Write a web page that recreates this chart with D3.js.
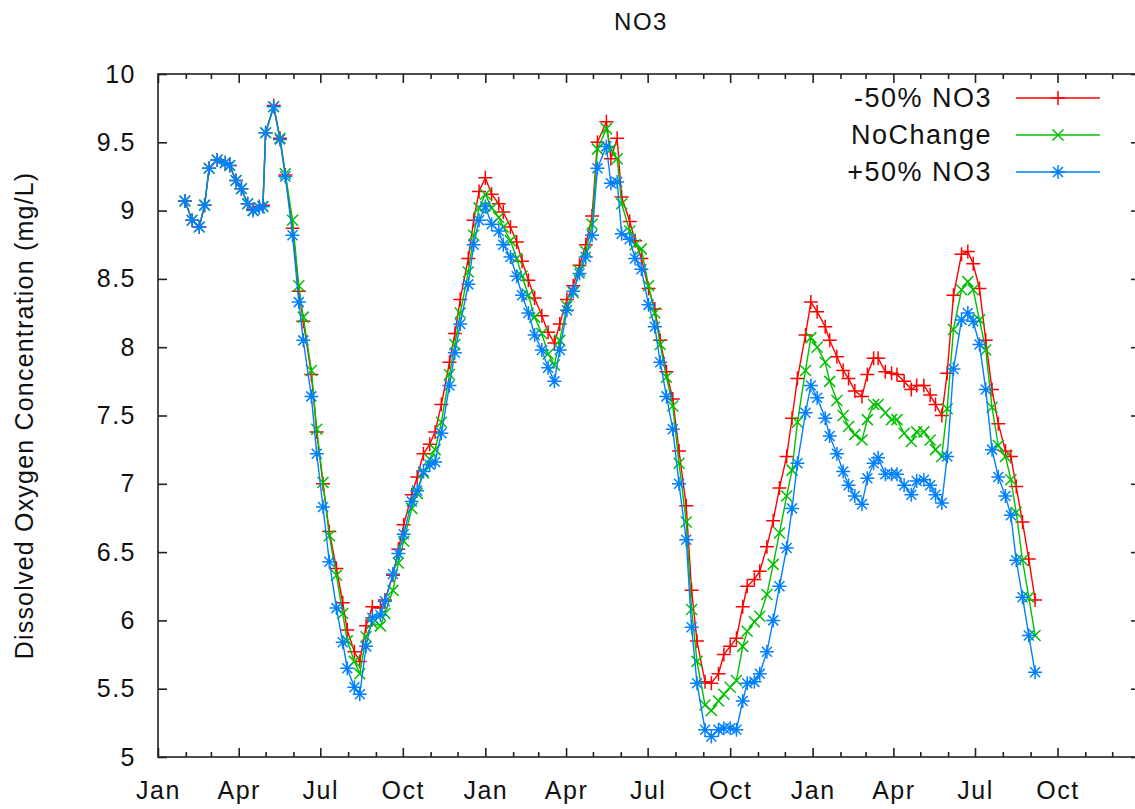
<!DOCTYPE html>
<html>
<head>
<meta charset="utf-8">
<script src="https://cdn.jsdelivr.net/npm/d3@7"></script>
<style>
    body { margin: 0; background: #fff; }
    text { font-family: "Liberation Sans", Arial, sans-serif; fill: #111; }
    .frame { fill: none; stroke: #222; stroke-width: 1.6; }
    .tick line { stroke: #222; stroke-width: 1.6; }
    .series { fill: none; stroke-width: 1.4; }
    .marker { fill: none; stroke-width: 1.5; }
</style>
</head>
<body>
<svg id="chart" width="1135" height="809"></svg>
<script>
// sample days counted from 1 Jan of the first year
const days = [30, 38, 46, 52, 57, 66, 75, 80, 87, 93, 100, 106, 113, 117, 120, 129, 136, 142, 150, 157,
    162, 171, 177, 184, 191, 199, 206, 211, 219, 225, 232, 239, 248, 253, 262, 268, 274, 283, 289, 296,
    303, 309, 316, 325, 331, 337, 346, 352, 358, 365, 372, 380, 385, 393, 400, 406, 413, 420, 428, 435,
    442, 448, 456, 463, 470, 477, 484, 490, 500, 505, 512, 517, 526, 532, 539, 547, 554, 560, 567, 574,
    581, 589, 595, 601, 610, 617, 625, 631, 638, 645, 652, 657, 665, 671, 679, 686, 693, 701, 707, 713,
    722, 728, 735, 744, 749, 757, 764, 770, 777, 785, 791, 798, 803, 811, 818, 824, 832, 840, 846, 854,
    861, 867, 874, 880, 887, 896, 903, 909, 916, 923, 930, 937, 945, 951, 957, 964, 971, 978];

const minus50 = [9.07, 8.93, 8.88, 9.04, 9.31, 9.37, 9.35, 9.33, 9.22, 9.16, 9.05, 9.01, 9.03, 9.04, 9.57, 9.77, 9.53, 9.26, 8.87, 8.41,
    8.19, 7.80, 7.38, 7.00, 6.65, 6.38, 6.13, 5.93, 5.77, 5.70, 5.96, 6.10, 6.09, 6.15, 6.33, 6.52, 6.70, 6.92, 7.05, 7.22,
    7.29, 7.38, 7.58, 7.89, 8.10, 8.35, 8.65, 8.93, 9.14, 9.24, 9.12, 9.05, 8.99, 8.88, 8.77, 8.63, 8.49, 8.36, 8.23, 8.11,
    8.03, 8.17, 8.35, 8.45, 8.60, 8.75, 8.96, 9.50, 9.65, 9.38, 9.53, 9.10, 8.92, 8.78, 8.65, 8.43, 8.28, 8.05, 7.82, 7.62,
    7.24, 6.84, 6.22, 5.85, 5.55, 5.54, 5.61, 5.75, 5.81, 5.87, 6.10, 6.25, 6.30, 6.36, 6.54, 6.73, 6.97, 7.20, 7.48, 7.77,
    8.09, 8.33, 8.26, 8.15, 8.05, 7.93, 7.83, 7.77, 7.68, 7.64, 7.80, 7.92, 7.92, 7.82, 7.81, 7.80, 7.75, 7.69, 7.72, 7.72,
    7.65, 7.58, 7.50, 7.81, 8.38, 8.68, 8.70, 8.61, 8.43, 8.05, 7.69, 7.44, 7.24, 7.20, 6.98, 6.72, 6.45, 6.15];

const noChange = [9.07, 8.93, 8.88, 9.04, 9.31, 9.37, 9.35, 9.33, 9.22, 9.16, 9.05, 9.00, 9.02, 9.03, 9.57, 9.76, 9.53, 9.27, 8.93, 8.45,
    8.22, 7.83, 7.40, 7.01, 6.62, 6.33, 6.05, 5.85, 5.70, 5.61, 5.88, 5.98, 5.96, 6.05, 6.22, 6.42, 6.58, 6.82, 6.93, 7.08,
    7.18, 7.25, 7.45, 7.80, 8.02, 8.25, 8.55, 8.82, 9.02, 9.12, 9.02, 8.95, 8.88, 8.78, 8.65, 8.52, 8.38, 8.22, 8.10, 7.95,
    7.87, 8.05, 8.30, 8.40, 8.56, 8.70, 8.90, 9.45, 9.60, 9.45, 9.38, 9.05, 8.85, 8.75, 8.72, 8.45, 8.25, 8.02, 7.78, 7.57,
    7.15, 6.72, 6.08, 5.70, 5.38, 5.34, 5.41, 5.46, 5.51, 5.56, 5.81, 5.92, 5.99, 6.03, 6.19, 6.41, 6.64, 6.91, 7.10, 7.45,
    7.83, 8.07, 8.00, 7.89, 7.75, 7.61, 7.50, 7.42, 7.36, 7.32, 7.47, 7.58, 7.58, 7.52, 7.47, 7.47, 7.37, 7.31, 7.38, 7.38,
    7.32, 7.25, 7.20, 7.55, 8.13, 8.42, 8.48, 8.42, 8.20, 7.98, 7.56, 7.28, 7.20, 7.03, 6.79, 6.44, 6.17, 5.89];

const plus50 = [9.07, 8.93, 8.88, 9.04, 9.31, 9.37, 9.35, 9.33, 9.22, 9.16, 9.05, 9.00, 9.02, 9.03, 9.57, 9.76, 9.52, 9.25, 8.82, 8.33,
    8.05, 7.64, 7.22, 6.83, 6.43, 6.09, 5.84, 5.65, 5.51, 5.46, 5.81, 6.02, 6.04, 6.14, 6.34, 6.49, 6.63, 6.87, 6.95, 7.09,
    7.14, 7.16, 7.37, 7.72, 7.96, 8.17, 8.46, 8.75, 8.93, 9.03, 8.90, 8.85, 8.75, 8.66, 8.52, 8.38, 8.25, 8.09, 7.98, 7.85,
    7.75, 7.98, 8.27, 8.41, 8.54, 8.66, 8.82, 9.31, 9.47, 9.20, 9.21, 8.83, 8.79, 8.65, 8.57, 8.31, 8.15, 7.89, 7.64, 7.40,
    7.00, 6.59, 5.95, 5.54, 5.20, 5.15, 5.20, 5.21, 5.21, 5.20, 5.41, 5.54, 5.55, 5.61, 5.77, 6.00, 6.25, 6.53, 6.82, 7.15,
    7.52, 7.72, 7.63, 7.48, 7.35, 7.22, 7.09, 6.99, 6.91, 6.85, 7.04, 7.15, 7.19, 7.07, 7.07, 7.07, 6.99, 6.92, 7.02, 7.03,
    6.99, 6.92, 6.86, 7.20, 7.84, 8.20, 8.25, 8.19, 8.02, 7.69, 7.25, 7.05, 6.91, 6.77, 6.44, 6.17, 5.89, 5.62];

const seriesNames = ['-50% NO3', 'NoChange', '+50% NO3'];
const seriesColors = ['#ff0000', '#00c000', '#0080ff'];
const seriesMarkers = ['plus', 'cross', 'star'];
const yTicks = [5, 5.5, 6, 6.5, 7, 7.5, 8, 8.5, 9, 9.5, 10];

const startDate = new Date(Date.UTC(2005, 0, 1));
const endDate = new Date(Date.UTC(2008, 0, 1));

const margin = { left: 158, top: 74, right: 1140, bottom: 757 };

const svg = d3.select('#chart');

const x = d3.scaleUtc().domain([startDate, endDate]).range([margin.left, margin.right]);
const y = d3.scaleLinear().domain([5, 10]).range([margin.bottom, margin.top]);

const dates = days.map(d => d3.utcDay.offset(startDate, d));
const series = [minus50, noChange, plus50].map((vals, i) => ({
    name: seriesNames[i],
    color: seriesColors[i],
    marker: seriesMarkers[i],
    points: vals.map((v, j) => ({ date: dates[j], value: v }))
}));

buildAxes();
plotSeries();
buildLegend();

function markerPath(type) {
    // gnuplot style point types: 1 = +, 2 = x, 3 = *
    if (type === 'plus') return 'M-7,0H7M0,-7V7';
    if (type === 'cross') return 'M-5.5,-5.5L5.5,5.5M-5.5,5.5L5.5,-5.5';
    return 'M-7,0H7M0,-7V7M-5,-5L5,5M-5,5L5,-5';
}

function styleLabels(g, size) {
    g.selectAll('text')
        .attr('font-size', size)
        .attr('fill', '#111')
        .attr('font-family', null)
        .style('letter-spacing', '1.5px');
}

function buildAxes() {
    const quarters = d3.utcMonth.every(3).range(startDate, endDate);
    const months = d3.utcMonth.range(startDate, endDate).filter(d => d.getUTCMonth() % 3 !== 0);

    // bottom: labelled quarters, minor months
    svg.append('g')
        .attr('transform', `translate(0,${margin.bottom})`)
        .call(d3.axisBottom(x).tickValues(quarters).tickFormat(d3.utcFormat('%b')).tickSize(-9).tickPadding(24))
        .call(g => g.select('.domain').remove())
        .call(g => styleLabels(g, 25));
    svg.append('g')
        .attr('transform', `translate(0,${margin.bottom})`)
        .call(d3.axisBottom(x).tickValues(months).tickFormat('').tickSize(-5))
        .call(g => g.select('.domain').remove());

    // top mirror ticks
    svg.append('g')
        .attr('transform', `translate(0,${margin.top})`)
        .call(d3.axisTop(x).tickValues(quarters).tickFormat('').tickSize(-9))
        .call(g => g.select('.domain').remove());
    svg.append('g')
        .attr('transform', `translate(0,${margin.top})`)
        .call(d3.axisTop(x).tickValues(months).tickFormat('').tickSize(-5))
        .call(g => g.select('.domain').remove());

    svg.append('g')
        .attr('transform', `translate(${margin.left},0)`)
        .call(d3.axisLeft(y).tickValues(yTicks).tickFormat(d3.format('')).tickSize(-9).tickPadding(22))
        .call(g => g.select('.domain').remove())
        .call(g => styleLabels(g, 25));
    svg.append('g')
        .attr('transform', `translate(${margin.right},0)`)
        .call(d3.axisRight(y).tickValues(yTicks).tickFormat('').tickSize(-9))
        .call(g => g.select('.domain').remove());

    svg.append('rect')
        .attr('class', 'frame')
        .attr('x', margin.left)
        .attr('y', margin.top)
        .attr('width', margin.right - margin.left)
        .attr('height', margin.bottom - margin.top);

    svg.append('text')
        .attr('x', 641)
        .attr('y', 30)
        .attr('text-anchor', 'middle')
        .attr('font-size', 24)
        .style('letter-spacing', '1.5px')
        .text('NO3');

    svg.append('text')
        .attr('transform', `translate(33,${(margin.top + margin.bottom) / 2}) rotate(-90)`)
        .attr('text-anchor', 'middle')
        .attr('font-size', 25)
        .style('letter-spacing', '1.2px')
        .text('Dissolved Oxygen Concentration (mg/L)');
}

function plotSeries() {
    const line = d3.line()
        .x(d => x(d.date))
        .y(d => y(d.value));

    const groups = svg.append('g')
        .selectAll('g')
        .data(series)
        .enter()
        .append('g')
        .attr('class', 'run');

    groups.append('path')
        .attr('class', 'series')
        .attr('stroke', d => d.color)
        .attr('d', d => line(d.points));

    groups.selectAll('path.marker')
        .data(d => d.points.map(p => ({ ...p, color: d.color, marker: d.marker })))
        .enter()
        .append('path')
        .attr('class', 'marker')
        .attr('stroke', d => d.color)
        .attr('transform', d => `translate(${x(d.date)},${y(d.value)})`)
        .attr('d', d => markerPath(d.marker));
}

function buildLegend() {
    const rows = svg.append('g')
        .selectAll('g')
        .data(series)
        .enter()
        .append('g')
        .attr('transform', (d, i) => `translate(0,${98 + i * 37})`);

    rows.append('text')
        .attr('x', 992)
        .attr('y', 9)
        .attr('text-anchor', 'end')
        .attr('font-size', 27)
        .style('letter-spacing', '1.5px')
        .text(d => d.name);

    rows.append('line')
        .attr('x1', 1016)
        .attr('x2', 1100)
        .attr('stroke', d => d.color)
        .attr('stroke-width', 1.4);

    rows.append('path')
        .attr('class', 'marker')
        .attr('stroke', d => d.color)
        .attr('transform', 'translate(1058,0)')
        .attr('d', d => markerPath(d.marker));
}
</script>
</body>
</html>
